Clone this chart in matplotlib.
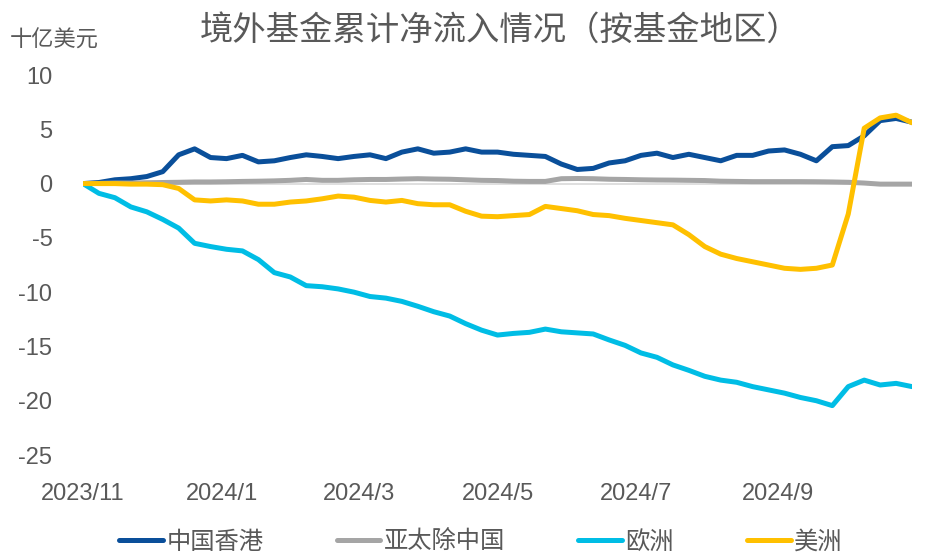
import numpy as np
import pandas as pd
import matplotlib
matplotlib.use("Agg")
import matplotlib.pyplot as plt

plt.rcParams['font.family'] = ['Liberation Sans', 'Noto Sans CJK SC', 'DejaVu Sans']
plt.rcParams['axes.unicode_minus'] = False

# Weekly cumulative net inflows, USD bn
dates = pd.date_range("2023-11-01", periods=53, freq="7D")

hong_kong = [0, 0.1, 0.35, 0.45, 0.65, 1.1, 2.65, 3.2, 2.4, 2.3,
             2.6, 2.0, 2.1, 2.4, 2.65, 2.5, 2.3, 2.5, 2.65, 2.3,
             2.9, 3.2, 2.8, 2.9, 3.2, 2.9, 2.9, 2.7, 2.6, 2.5,
             1.8, 1.3, 1.4, 1.9, 2.1, 2.6, 2.8, 2.4, 2.7, 2.4,
             2.1, 2.6, 2.6, 3.0, 3.1, 2.7, 2.1, 3.4, 3.5, 4.4,
             5.8, 6.0, 5.65]

asia_ex_china = [0, 0.02, 0.05, 0.05, 0.08, 0.1, 0.12, 0.15, 0.15, 0.17,
                 0.2, 0.22, 0.25, 0.3, 0.38, 0.3, 0.3, 0.35, 0.38, 0.38,
                 0.42, 0.45, 0.42, 0.4, 0.35, 0.3, 0.28, 0.22, 0.2, 0.2,
                 0.45, 0.47, 0.45, 0.4, 0.38, 0.35, 0.33, 0.32, 0.3, 0.28,
                 0.22, 0.2, 0.18, 0.18, 0.18, 0.18, 0.17, 0.15, 0.12, 0.05,
                 -0.05, -0.05, -0.05]

europe = [0, -0.9, -1.3, -2.15, -2.6, -3.3, -4.1, -5.5, -5.8, -6.05,
          -6.2, -7.0, -8.2, -8.6, -9.4, -9.5, -9.7, -10.0, -10.4, -10.55,
          -10.85, -11.3, -11.8, -12.2, -12.9, -13.5, -13.95, -13.8, -13.7, -13.4,
          -13.65, -13.75, -13.85, -14.4, -14.9, -15.6, -16.0, -16.7, -17.2, -17.75,
          -18.1, -18.3, -18.7, -19.0, -19.3, -19.7, -20.0, -20.45, -18.7, -18.1,
          -18.55, -18.4, -18.7]

americas = [0, 0, 0, -0.05, -0.05, -0.1, -0.45, -1.5, -1.6, -1.5,
            -1.6, -1.9, -1.9, -1.7, -1.6, -1.4, -1.15, -1.25, -1.55, -1.7,
            -1.55, -1.85, -1.95, -1.95, -2.55, -3.0, -3.05, -2.95, -2.85, -2.1,
            -2.3, -2.5, -2.85, -2.95, -3.2, -3.4, -3.6, -3.8, -4.7, -5.8,
            -6.5, -6.9, -7.2, -7.5, -7.8, -7.9, -7.8, -7.5, -2.8, 5.1,
            6.05, 6.3, 5.6]

series_names = ["中国香港", "亚太除中国", "欧洲", "美洲"]
colors = ["#0A4F9A", "#A5A5A5", "#00BDE5", "#FFC000"]

tick_dates = pd.to_datetime(["2023-11-01", "2024-01-01", "2024-03-01",
                             "2024-05-01", "2024-07-01", "2024-09-01"])
tick_labels = ["2023/11", "2024/1", "2024/3", "2024/5", "2024/7", "2024/9"]

text_color = "#595959"

fig = plt.figure(figsize=(9.36, 5.59), dpi=100)
ax = fig.add_axes([0.0887, 0.186, 0.8857, 0.6798])

ax.axhline(0, color="#D9D9D9", linewidth=1.2, zorder=1)

all_series = [hong_kong, asia_ex_china, europe, americas]
for values, name, c in zip(all_series, series_names, colors):
    ax.plot(dates, values, color=c, linewidth=3.6, label=name,
            solid_capstyle="round", solid_joinstyle="round", zorder=3)

ax.set_xlim(dates[0], dates[-1])
ax.set_ylim(-25, 10)
ax.set_yticks(np.arange(-25, 11, 5))
ax.set_xticks(tick_dates)
ax.set_xticklabels(tick_labels)

for s in ax.spines.values():
    s.set_visible(False)
ax.tick_params(axis="both", length=0, labelsize=17, labelcolor=text_color)
ax.tick_params(axis="x", pad=20)
ax.tick_params(axis="y", pad=22)

fig.text(0.534, 0.945, "境外基金累计净流入情况（按基金地区）", ha="center", va="center",
         fontsize=24, color=text_color)
fig.text(0.01, 0.927, "十亿美元", ha="left", va="center", fontsize=16, color=text_color)

fig.legend(loc="center", bbox_to_anchor=(0.514, 0.03), ncol=4, frameon=False,
           fontsize=17.5, handlelength=1.8, handletextpad=0.15, columnspacing=3.0,
           labelcolor=text_color)

fig.savefig("out.png", dpi=100)
